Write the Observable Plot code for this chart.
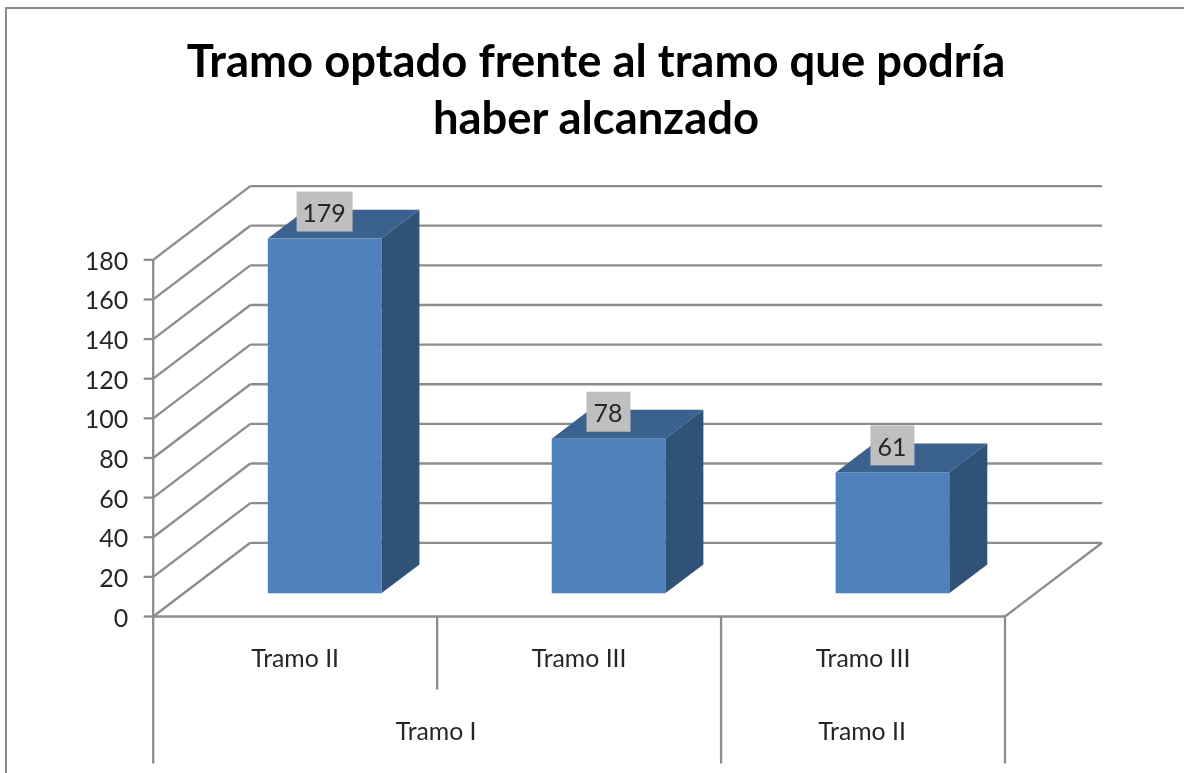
<!DOCTYPE html>
<html>
<head>
<meta charset="utf-8">
<script src="https://cdn.jsdelivr.net/npm/d3@7"></script>
<script src="https://cdn.jsdelivr.net/npm/@observablehq/plot@0.6"></script>
<style>
html,body{margin:0;padding:0;background:#fff;overflow:hidden}
#wrap{position:relative;width:1184px;height:773px;overflow:hidden}
#frame{position:absolute;left:5px;top:7px;width:1300px;height:900px;border-left:2.5px solid #8c8c8c;border-top:2.5px solid #8c8c8c}
#title{position:absolute;left:0;width:1192px;top:31px;text-align:center;font:700 45.4px/57px Lato,sans-serif;color:#000;margin:0;white-space:nowrap;filter:blur(.5px)}
#chart{position:absolute;left:0;top:0;filter:blur(.6px)}
#chart svg{overflow:visible;background:transparent}
</style>
</head>
<body>
<div id="wrap">
<div id="frame"></div>
<h1 id="title">Tramo optado frente al tramo que podría<br>haber alcanzado</h1>
<div id="chart"></div>
</div>
<script>
const innerCategories = ["Tramo II", "Tramo III", "Tramo III"];
const outerCategories = ["Tramo I", "Tramo I", "Tramo II"];
const values = [179, 78, 61];
const yTicks = [0, 20, 40, 60, 80, 100, 120, 140, 160, 180];

// oblique depth of the chart box, in data units
const depthX = 0.342, depthY = 37.2;
const barFront = 0.308, barBack = 0.70, barStart = 0.30, barWidth = 0.40;
const pxX = (1005 - 153) / 3, pxY = (616 - 259.3) / 180;

const line = "#8c8c8c", ink = "#262626";
const font = "Lato, sans-serif";

const bars = values.map((v, i) => {
  const left = i + barStart;
  return {
    i, v,
    fx1: left + barFront * depthX,
    fx2: left + barWidth + barFront * depthX,
    bx1: left + barBack * depthX,
    bx2: left + barWidth + barBack * depthX,
    fy0: barFront * depthY,
    fy1: v + barFront * depthY,
    by0: barBack * depthY,
    by1: v + barBack * depthY
  };
});

const side = bars.flatMap(b => [
  {z: b.i, x: b.fx2, y1: b.fy0, y2: b.fy1},
  {z: b.i, x: b.bx2, y1: b.by0, y2: b.by1}
]);
const top_ = bars.flatMap(b => [
  {z: b.i, y: b.fy1, x1: b.fx1, x2: b.fx2},
  {z: b.i, y: b.by1, x1: b.bx1, x2: b.bx2}
]);

const labels = bars.map(b => {
  const text = String(b.v), cx = (b.fx1 + b.fx2) / 2, cy = b.fy1 + 27 / pxY;
  const half = (20 + 12 * text.length) / 2 / pxX;
  return {text, cx, cy, x1: cx - half, x2: cx + half, y1: cy - 20 / pxY, y2: cy + 20 / pxY};
});

// category separators: short inside a group, long at group edges
const seps = d3.range(0, values.length + 1).map(k => {
  const edge = k === 0 || k === values.length || outerCategories[k - 1] !== outerCategories[k];
  return {x: k, y2: edge ? -147 / pxY : -73 / pxY};
});

const innerLabels = innerCategories.map((t, i) => ({t, x: i + 0.5}));
const outerLabels = d3.groups(outerCategories.map((t, i) => ({t, i})), d => d.t)
  .map(([t, g]) => ({t, x: d3.mean(g, d => d.i) + 0.5}));

const lineOpts = {stroke: line, strokeWidth: 2.3};

const plot = Plot.plot({
  width: 1184,
  height: 773,
  marginLeft: 152.7,
  marginRight: 179.5,
  marginTop: 259.3,
  marginBottom: 157,
  x: {domain: [0, 3], axis: null},
  y: {domain: [0, 180], axis: null},
  style: {background: "transparent"},
  marks: [
    // side wall and back wall
    Plot.link(yTicks, {x1: 0, y1: d => d, x2: depthX, y2: d => d + depthY, ...lineOpts}),
    Plot.link(yTicks, {x1: depthX, y1: d => d + depthY, x2: 3 + depthX, y2: d => d + depthY, ...lineOpts}),
    // floor right edge and front edge
    Plot.link([0], {x1: 3, y1: 0, x2: 3 + depthX, y2: depthY, ...lineOpts}),
    Plot.link([0], {x1: 0, y1: 0, x2: 3, y2: 0, ...lineOpts}),
    Plot.link([0], {x1: 0, y1: 0, x2: 0, y2: 180, ...lineOpts}),
    // category separators
    Plot.link(seps, {x1: "x", y1: 0, x2: "x", y2: "y2", ...lineOpts}),
    // 3D bars
    Plot.areaX(top_, {y: "y", x1: "x1", x2: "x2", z: "z", fill: "#3b618f"}),
    Plot.areaY(side, {x: "x", y1: "y1", y2: "y2", z: "z", fill: "#305277"}),
    Plot.rect(bars, {x1: "fx1", x2: "fx2", y1: "fy0", y2: "fy1", fill: "#4f81bd"}),
    // data labels
    Plot.rect(labels, {x1: "x1", x2: "x2", y1: "y1", y2: "y2", fill: "#bfbfbf"}),
    Plot.text(labels, {x: "cx", y: "cy", dy: 2, dx: -1, text: "text", fontSize: 25, fontFamily: font, fill: ink}),
    // axis ticks and axis labels
    Plot.axisY({ticks: yTicks, tickSize: 9, fill: "none", stroke: line, strokeWidth: 2.3, label: null}),
    Plot.axisY({
      ticks: yTicks, tickSize: 0, tickPadding: 25, dy: 2, tickFormat: d => String(d),
      fill: ink, fontSize: 25, fontFamily: font, label: null
    }),
    // category labels
    Plot.text(innerLabels, {x: "x", y: 0, dy: 43, text: "t", fontSize: 24.8, fontFamily: font, fill: ink}),
    Plot.text(outerLabels, {x: "x", y: 0, dy: 116, dx: -1, text: "t", fontSize: 24.8, fontFamily: font, fill: ink})
  ]
});
document.getElementById("chart").appendChild(plot);
</script>
</body>
</html>
